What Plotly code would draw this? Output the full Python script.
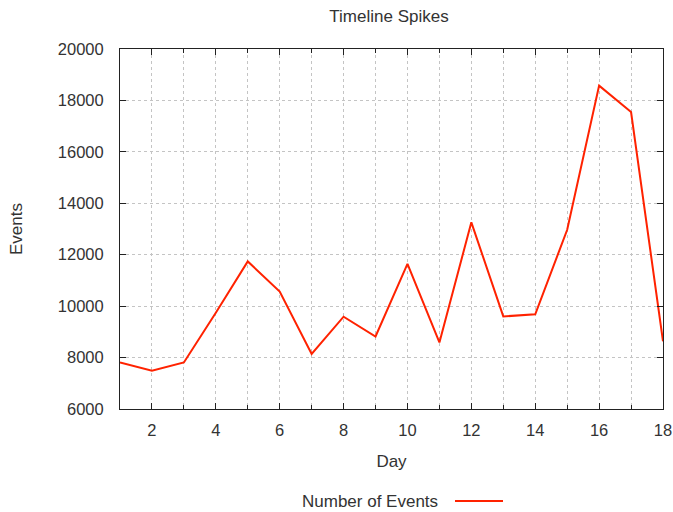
import plotly.graph_objects as go

days = list(range(1, 19))
events = [7810, 7490, 7810, 9740, 11740, 10570, 8140, 9590, 8820,
          11640, 8590, 13260, 9600, 9680, 12970, 18575, 17550, 8630]

series_name = "Number of Events"
title_text = "Timeline Spikes"
x_title = "Day"
y_title = "Events"

FONT = "Liberation Sans, Arial, sans-serif"
TXT = "#333333"
RED = "#ff2200"
GRID = "#c4c4c4"

W, H = 673, 512
L, T, R, B = 120, 49, 10, 103
PW, PH = W - L - R, H - T - B

fig = go.Figure()
fig.add_trace(go.Scatter(x=days, y=events, mode="lines", name=series_name,
                         line=dict(color=RED, width=2), showlegend=False))

fig.update_layout(
    width=W, height=H, autosize=False,
    margin=dict(l=L, r=R, t=T, b=B, pad=0),
    paper_bgcolor="white", plot_bgcolor="white",
    font=dict(family=FONT, size=16, color=TXT),
    title=dict(text=title_text, x=389 / W, xanchor="center",
               y=1 - 16 / H, yanchor="middle", font=dict(size=17, color=TXT)),
    xaxis=dict(range=[1, 18], tick0=0, dtick=2, showgrid=True, gridcolor=GRID,
               griddash="dot", gridwidth=1, ticks="inside", ticklen=6,
               tickcolor="#222", showline=True, linecolor="#222", linewidth=1,
               mirror="allticks", zeroline=False, ticklabelstandoff=6,
               automargin=False,
               minor=dict(dtick=1, tick0=0, showgrid=True, gridcolor=GRID,
                          griddash="dot", ticks="inside", ticklen=4, tickcolor="#222"),
               title=dict(text=x_title, standoff=17, font=dict(size=17, color=TXT)),
               tickfont=dict(size=16.5, color=TXT)),
    yaxis=dict(range=[6000, 20000], tick0=6000, dtick=2000, tickformat="d",
               showgrid=True, gridcolor=GRID, griddash="dot", ticks="inside",
               ticklen=6, tickcolor="#222", showline=True, linecolor="#222",
               linewidth=1, mirror="allticks", zeroline=False, ticklabelstandoff=12,
               automargin=False,
               title=dict(text=y_title, standoff=30, font=dict(size=17, color=TXT)),
               tickfont=dict(size=16.5, color=TXT)),
)

fig.add_annotation(text=series_name, xref="paper", yref="paper",
                   x=(440 - L) / PW, y=-(501 - 409) / PH,
                   xanchor="right", yanchor="middle", showarrow=False,
                   font=dict(size=17, color=TXT))
fig.add_shape(type="line", xref="paper", yref="paper",
              x0=(455 - L) / PW, x1=(503 - L) / PW,
              y0=-(501 - 409) / PH, y1=-(501 - 409) / PH,
              line=dict(color=RED, width=2))

fig.write_html("out.html",
               config={"displayModeBar": False},
               post_script="document.body.style.margin='0';"
                           "document.body.style.overflow='hidden';")
